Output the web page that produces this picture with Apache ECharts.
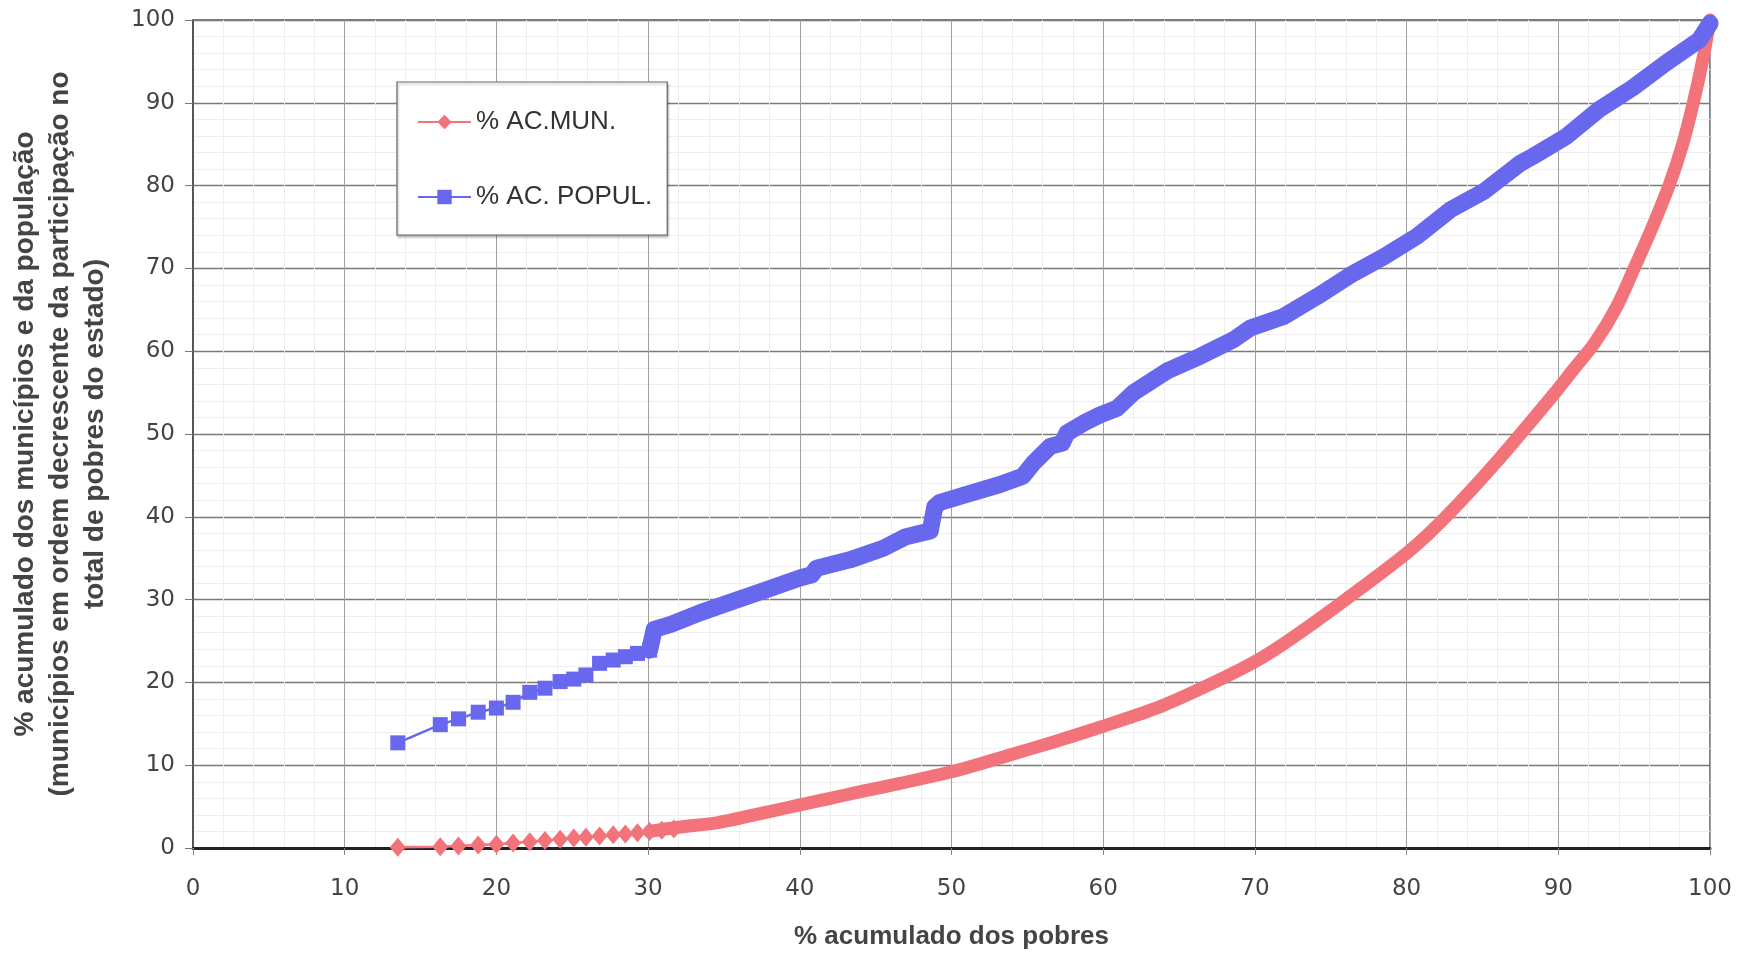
<!DOCTYPE html>
<html>
<head>
<meta charset="utf-8">
<script src="https://cdn.jsdelivr.net/npm/echarts@6/dist/echarts.min.js"></script>
<style>
html,body{margin:0;padding:0;background:#ffffff;}
#chart{width:1743px;height:956px;}
</style>
</head>
<body>
<div id="chart"></div>
<script>
// ---- Data ----
const seriesNames = ['% AC.MUN.', '% AC. POPUL.'];
const xTitle = '% acumulado dos pobres';
const yTitleLines = [
  '% acumulado dos municípios e da população',
  '(municípios em ordem decrescente da participação no',
  'total de pobres do estado)'
];

// % AC.MUN. : individually visible markers at the start
const munStart = [
  [13.5,0.1],[16.3,0.15],[17.5,0.25],[18.8,0.35],[20.0,0.45],[21.1,0.6],
  [22.2,0.75],[23.2,0.9],[24.2,1.05],[25.1,1.2],[25.9,1.3],[26.8,1.45],
  [27.7,1.6],[28.5,1.7],[29.3,1.85],[30.1,2.0],[30.9,2.15],[31.7,2.3]
];
// % AC.MUN. : dense part (markers merge into a band)
const munDense = [
  [30.1,2.0],[32.0,2.5],[34.7,3.1],[38.0,4.4],[40.0,5.2],[42.0,6.0],[44.0,6.8],
  [46.6,7.8],[50.0,9.2],[53.4,11.0],[56.9,12.9],[60.0,14.7],[63.8,17.1],
  [67.2,19.9],[70.0,22.5],[72.4,25.3],[75.9,29.9],[80.2,35.9],[82.8,40.4],
  [86.2,47.2],[89.7,54.8],[91.0,57.8],[92.4,61.0],[93.8,65.2],[95.0,70.0],
  [96.2,75.0],[97.3,80.0],[98.2,85.0],[98.9,90.0],[99.5,95.0],[100.0,100.0]
];

// % AC. POPUL. : individually visible markers at the start
const popStart = [
  [13.5,12.7],[16.3,14.9],[17.5,15.6],[18.8,16.4],[20.0,16.9],[21.1,17.6],
  [22.2,18.8],[23.2,19.3],[24.2,20.1],[25.1,20.4],[25.9,20.9],[26.8,22.3],
  [27.7,22.7],[28.5,23.1],[29.3,23.5],[30.1,23.9]
];
// % AC. POPUL. : dense part
const popDense = [
  [30.1,23.9],[30.4,26.4],[31.5,27.0],[33.4,28.4],[35.6,29.8],[37.8,31.2],
  [40.0,32.6],[40.8,33.0],[41.1,33.8],[43.3,34.8],[45.5,36.2],[47.0,37.6],
  [48.6,38.3],[48.9,41.2],[49.2,41.7],[51.0,42.7],[53.2,43.9],[54.7,44.9],
  [55.4,46.5],[56.5,48.5],[57.3,48.9],[57.6,50.1],[58.7,51.3],[59.8,52.3],
  [60.9,53.1],[62.0,55.0],[64.2,57.6],[66.4,59.4],[68.6,61.4],[69.7,62.8],
  [71.9,64.2],[74.1,66.6],[76.3,69.2],[78.5,71.4],[80.7,73.9],[82.9,77.1],
  [85.1,79.3],[87.5,82.7],[88.3,83.5],[90.5,85.9],[92.7,89.2],[94.9,91.8],
  [97.1,94.8],[99.3,97.6],[100.0,99.6]
];

// ---- Styles ----
const RED = '#f2737a';
const BLUE = '#6868ee';
const TICK_FONT = "'DejaVu Sans', sans-serif";
const TEXT_FONT = "'Liberation Sans', Arial, sans-serif";

const chart = echarts.init(document.getElementById('chart'), null, {renderer: 'canvas'});

const option = {
  animation: false,
  backgroundColor: '#ffffff',
  grid: {
    left: 193, right: 33, top: 20, bottom: 108,
    show: true, borderColor: '#555555', borderWidth: 1.5, backgroundColor: '#ffffff'
  },
  legend: {
    data: seriesNames,
    orient: 'vertical',
    left: 397, top: 82,
    itemGap: 49,
    itemWidth: 53, itemHeight: 18,
    padding: [27, 15, 25, 20],
    backgroundColor: '#ffffff',
    borderColor: '#666666', borderWidth: 1.2,
    shadowColor: 'rgba(0,0,0,0.25)', shadowBlur: 2, shadowOffsetX: 1, shadowOffsetY: 2,
    textStyle: {fontFamily: TEXT_FONT, fontSize: 26, color: '#333333'}
  },
  xAxis: {
    type: 'value', min: 0, max: 100, interval: 10,
    name: xTitle, nameLocation: 'middle', nameGap: 76,
    nameTextStyle: {fontFamily: TEXT_FONT, fontWeight: 'bold', fontSize: 26, color: '#444444'},
    axisLine: {show: true, onZero: false, lineStyle: {color: '#222222', width: 3}},
    axisTick: {show: true, length: 7, lineStyle: {color: '#888888'}},
    axisLabel: {fontFamily: TICK_FONT, fontSize: 23, color: '#444444', margin: 30},
    splitLine: {show: true, lineStyle: {color: '#a0a0a0', width: 1}},
    minorTick: {show: false, splitNumber: 5},
    minorSplitLine: {show: true, lineStyle: {color: '#eeeeee', width: 1}}
  },
  yAxis: {
    type: 'value', min: 0, max: 100, interval: 10,
    name: yTitleLines.join('\n'), nameLocation: 'middle', nameGap: 80,
    nameTextStyle: {fontFamily: TEXT_FONT, fontWeight: 'bold', fontSize: 28, lineHeight: 35, color: '#444444', align: 'center'},
    axisLine: {show: true, lineStyle: {color: '#444444', width: 1.5}},
    axisTick: {show: true, length: 8, lineStyle: {color: '#777777'}},
    axisLabel: {fontFamily: TICK_FONT, fontSize: 23, color: '#444444', margin: 18},
    splitLine: {show: true, lineStyle: {color: '#7a7a7a', width: 1.3}},
    minorTick: {show: false, splitNumber: 5},
    minorSplitLine: {show: true, lineStyle: {color: '#eeeeee', width: 1}}
  },
  series: [
    {
      name: seriesNames[0], type: 'line', data: munStart, z: 3, clip: false,
      symbol: 'diamond', symbolSize: [16, 19],
      itemStyle: {color: RED}, lineStyle: {color: RED, width: 2.5}
    },
    {
      name: seriesNames[1], type: 'line', data: popStart, z: 5, clip: false,
      symbol: 'rect', symbolSize: 15,
      itemStyle: {color: BLUE}, lineStyle: {color: BLUE, width: 2.5}
    },
    {
      name: seriesNames[0], type: 'line', data: munDense, z: 2, clip: false,
      symbol: 'none', showSymbol: false, smooth: 0.3,
      lineStyle: {color: RED, width: 13, cap: 'round', join: 'round'}
    },
    {
      name: seriesNames[1], type: 'line', data: popDense, z: 4, clip: false,
      symbol: 'none', showSymbol: false,
      lineStyle: {color: BLUE, width: 17, cap: 'round', join: 'round'}
    }
  ]
};
chart.setOption(option);
</script>
</body>
</html>
